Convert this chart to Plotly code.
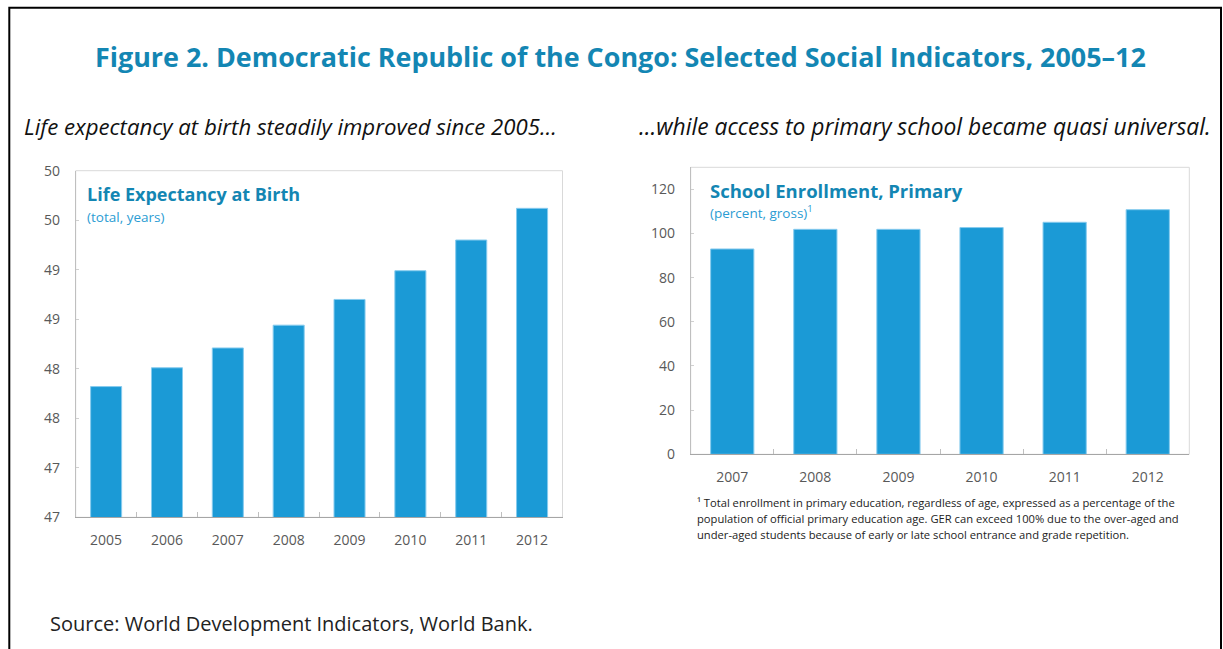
import plotly.graph_objects as go

# Life expectancy at birth (total, years)
life_years = ["2005", "2006", "2007", "2008", "2009", "2010", "2011", "2012"]
life_expectancy = [47.82, 48.01, 48.21, 48.44, 48.70, 48.99, 49.30, 49.62]
life_tickvals = [46.5, 47.0, 47.5, 48.0, 48.5, 49.0, 49.5, 50.0]
life_ticktext = ["47", "47", "48", "48", "49", "49", "50", "50"]

# School enrollment, primary (percent, gross)
school_years = ["2007", "2008", "2009", "2010", "2011", "2012"]
school_enrollment = [93.0, 101.9, 101.9, 102.7, 105.1, 110.8]
school_tickvals = [0, 20, 40, 60, 80, 100, 120]

footnote_lines = [
    "¹ Total enrollment in primary education, regardless of age, expressed as a percentage of the",
    "population of official primary education age. GER can exceed 100% due to the over-aged and",
    "under-aged students because of early or late school entrance and grade repetition.",
]

W, H = 1223, 649
FONT = "Open Sans"
BAR = "#1B9AD6"
BAR_EDGE = "#86CBEE"
TITLE = "#1386B3"
SUB = "#2B9CD3"
TICK = "#595959"


def px(x):
    return x / W


def py(y):
    return 1 - y / H


fig = go.Figure()
fig.add_trace(go.Bar(x=life_years, y=life_expectancy, marker=dict(color=BAR, line=dict(color=BAR_EDGE, width=1)),
                     xaxis="x", yaxis="y", width=0.51, hoverinfo="x+y"))
fig.add_trace(go.Bar(x=school_years, y=school_enrollment, marker=dict(color=BAR, line=dict(color=BAR_EDGE, width=1)),
                     xaxis="x2", yaxis="y2", width=0.52, hoverinfo="x+y"))

tickfont = dict(family=FONT, size=14, color=TICK)
xcommon = dict(type="category", showline=True, linecolor="#A6A6A6", linewidth=1, ticks="inside",
               tickson="boundaries", ticklen=5, tickcolor="#BFBFBF", showgrid=False, zeroline=False,
               tickfont=tickfont, ticklabelstandoff=10, fixedrange=True, automargin=False)
ycommon = dict(showline=True, linecolor="#BFBFBF", linewidth=1, ticks="inside", ticklen=3,
               tickcolor="#D0D0D0", showgrid=False, zeroline=False, tickfont=tickfont,
               ticklabelstandoff=12, fixedrange=True, automargin=False)

L = dict(x0=75.7, x1=562.5, y0=170.7, y1=517.3)
R = dict(x0=690.7, x1=1189.3, y0=167.3, y1=454.3)

fig.update_layout(
    width=W, height=H, autosize=False,
    margin=dict(l=0, r=0, t=0, b=0, pad=0, autoexpand=False),
    paper_bgcolor="white", plot_bgcolor="white", showlegend=False, bargap=0.49,
    xaxis=dict(xcommon, domain=[px(L["x0"]), px(L["x1"])], anchor="y"),
    yaxis=dict(ycommon, domain=[py(L["y1"]), py(L["y0"])], anchor="x", range=[46.5, 50.0],
               tickvals=life_tickvals, ticktext=life_ticktext),
    xaxis2=dict(xcommon, domain=[px(R["x0"]), px(R["x1"])], anchor="y2"),
    yaxis2=dict(ycommon, domain=[py(R["y1"]), py(R["y0"])], anchor="x2", range=[0, 130],
                tickvals=school_tickvals),
)

# light frame around each panel, and the outer black border
shapes = []
for P in (L, R):
    shapes.append(dict(type="rect", xref="paper", yref="paper", x0=px(P["x0"]), x1=px(P["x1"]),
                       y0=py(P["y1"]), y1=py(P["y0"]), line=dict(color="#D9D9D9", width=1), layer="below"))
shapes.append(dict(type="rect", xref="paper", yref="paper", x0=px(9.3), x1=px(1221), y0=-0.05, y1=py(7.8),
                   line=dict(color="black", width=2)))
fig.update_layout(shapes=shapes)


def note(text, x, y, size, color, xanchor="left", bold=False, italic=False):
    fig.add_annotation(text=text, x=px(x), y=py(y), xref="paper", yref="paper", xanchor=xanchor,
                       yanchor="middle", showarrow=False, align=xanchor if xanchor != "center" else "center",
                       font=dict(family=FONT, size=size, color=color,
                                 weight="bold" if bold else "normal",
                                 style="italic" if italic else "normal"))


note("Figure 2. Democratic Republic of the Congo: Selected Social Indicators, 2005–12", 620, 57, 26.9, TITLE,
     xanchor="center", bold=True)
note("Life expectancy at birth steadily improved since 2005…", 22, 126, 22.2, "#111111", italic=True)
note("…while access to primary school became quasi universal.", 1213, 126, 22.8, "#111111",
     xanchor="right", italic=True)
note("Life Expectancy at Birth", 85, 194, 18, TITLE, bold=True)
note("(total, years)", 85, 217, 13.5, SUB)
note("School Enrollment, Primary", 708, 190, 18.5, TITLE, bold=True)
note("(percent, gross)<sup>1</sup>", 708, 212, 13.5, SUB)
for i, line in enumerate(footnote_lines):
    note(line, 695, 502 + 16 * i, 11.2, "#222222")
note("Source: World Development Indicators, World Bank.", 48, 623, 20, "#222222")

fig.write_html("out.html")
